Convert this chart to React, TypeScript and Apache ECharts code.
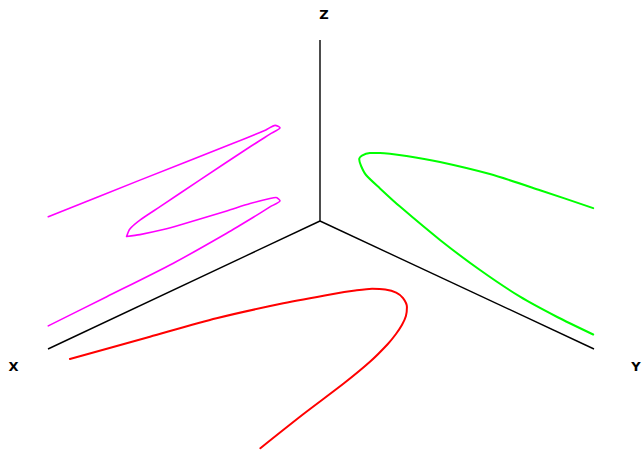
import React, { useEffect, useRef } from "react";
import * as echarts from "echarts";

// Every axis of the box runs from 0 to 1.
const AXIS_MAX = 1;

// Curve on the X–Z wall (y = 0), as [x, z].
const wallXZ: [number, number][] = [
  [0.999, 0.73],
  [0.662, 0.694],
  [0.319, 0.655],
  [0.199, 0.644],
  [0.165, 0.645],
  [0.147, 0.619],
  [0.184, 0.61],
  [0.257, 0.592],
  [0.441, 0.539],
  [0.588, 0.495],
  [0.662, 0.473],
  [0.699, 0.45],
  [0.711, 0.417],
  [0.662, 0.393],
  [0.576, 0.36],
  [0.515, 0.342],
  [0.343, 0.298],
  [0.257, 0.278],
  [0.184, 0.254],
  [0.162, 0.244],
  [0.147, 0.216],
  [0.184, 0.208],
  [0.245, 0.194],
  [0.343, 0.175],
  [0.539, 0.148],
  [0.784, 0.136],
  [0.999, 0.127],
];

// Curve on the Y–Z wall (x = 0), as [y, z].
const wallYZ: [number, number][] = [
  [0.997, 0.776],
  [0.803, 0.738],
  [0.62, 0.698],
  [0.438, 0.636],
  [0.316, 0.583],
  [0.219, 0.531],
  [0.182, 0.504],
  [0.153, 0.47],
  [0.143, 0.444],
  [0.15, 0.41],
  [0.168, 0.373],
  [0.219, 0.335],
  [0.292, 0.286],
  [0.438, 0.205],
  [0.584, 0.142],
  [0.73, 0.098],
  [0.864, 0.082],
  [0.997, 0.078],
];

// Curve on the X–Y floor (z = 0), as [x, y].
const floorXY: [number, number][] = [
  [0.999, 0.079],
  [0.765, 0.139],
  [0.571, 0.189],
  [0.39, 0.253],
  [0.262, 0.308],
  [0.208, 0.335],
  [0.17, 0.359],
  [0.149, 0.386],
  [0.141, 0.418],
  [0.15, 0.452],
  [0.178, 0.494],
  [0.215, 0.527],
  [0.258, 0.555],
  [0.304, 0.579],
  [0.358, 0.603],
  [0.459, 0.639],
  [0.594, 0.676],
  [0.787, 0.721],
  [1.0, 0.775],
];

const axisNames = ["X", "Y", "Z"];

// Oblique projection of the unit box onto the 643x450 canvas.
const ORIGIN = [320, 221];
const X_DIR = [-272, 128];
const Y_DIR = [274, 128];
const Z_DIR = [0, -181];

function project(x: number, y: number, z: number): [number, number] {
  return [
    ORIGIN[0] + x * X_DIR[0] + y * Y_DIR[0] + z * Z_DIR[0],
    ORIGIN[1] + x * X_DIR[1] + y * Y_DIR[1] + z * Z_DIR[1],
  ];
}

const WIDTH = 643;
const HEIGHT = 450;

export default function App() {
  const ref = useRef<HTMLDivElement | null>(null);

  useEffect(() => {
    if (!ref.current) return;
    const chart = echarts.init(ref.current, undefined, { renderer: "svg" });

    const axisEnds = [
      project(AXIS_MAX, 0, 0),
      project(0, AXIS_MAX, 0),
      project(0, 0, AXIS_MAX),
    ];
    const origin = project(0, 0, 0);

    const labelPos: [number, number][] = [
      [13.5, 366.5],
      [636, 366.5],
      [324, 14.5],
    ];

    const curveSeries = (
      name: string,
      data: [number, number][],
      color: string,
      width: number
    ) => ({
      type: "line",
      name,
      data,
      showSymbol: false,
      symbol: "none",
      smooth: 0.25,
      silent: true,
      lineStyle: { color, width, join: "round", cap: "round" },
      z: 3,
    });

    chart.setOption({
      animation: false,
      backgroundColor: "#ffffff",
      grid: { left: 0, right: 0, top: 0, bottom: 0, containLabel: false },
      xAxis: { type: "value", min: 0, max: WIDTH, show: false },
      yAxis: { type: "value", min: 0, max: HEIGHT, inverse: true, show: false },
      series: [
        ...axisEnds.map((end, i) => ({
          type: "line",
          name: axisNames[i] + " axis",
          data: [origin, end],
          showSymbol: false,
          symbol: "none",
          silent: true,
          lineStyle: { color: "#000000", width: 1.4 },
          z: 2,
        })),
        curveSeries(
          "XZ",
          wallXZ.map(([x, z]) => project(x, 0, z)),
          "#ff00ff",
          1.6
        ),
        curveSeries(
          "YZ",
          wallYZ.map(([y, z]) => project(0, y, z)),
          "#00ff00",
          2
        ),
        curveSeries(
          "XY",
          floorXY.map(([x, y]) => project(x, y, 0)),
          "#ff0000",
          2
        ),
      ],
      graphic: axisNames.map((name, i) => ({
        type: "text",
        x: labelPos[i][0],
        y: labelPos[i][1],
        silent: true,
        style: {
          text: name,
          fill: "#000000",
          font: "bold 13px 'DejaVu Sans'",
          textAlign: "center",
          textVerticalAlign: "middle",
        },
      })),
    });

    return () => chart.dispose();
  }, []);

  return (
    <div
      ref={ref}
      style={{
        position: "fixed",
        left: 0,
        top: 0,
        width: WIDTH,
        height: HEIGHT,
        background: "#ffffff",
      }}
    />
  );
}
